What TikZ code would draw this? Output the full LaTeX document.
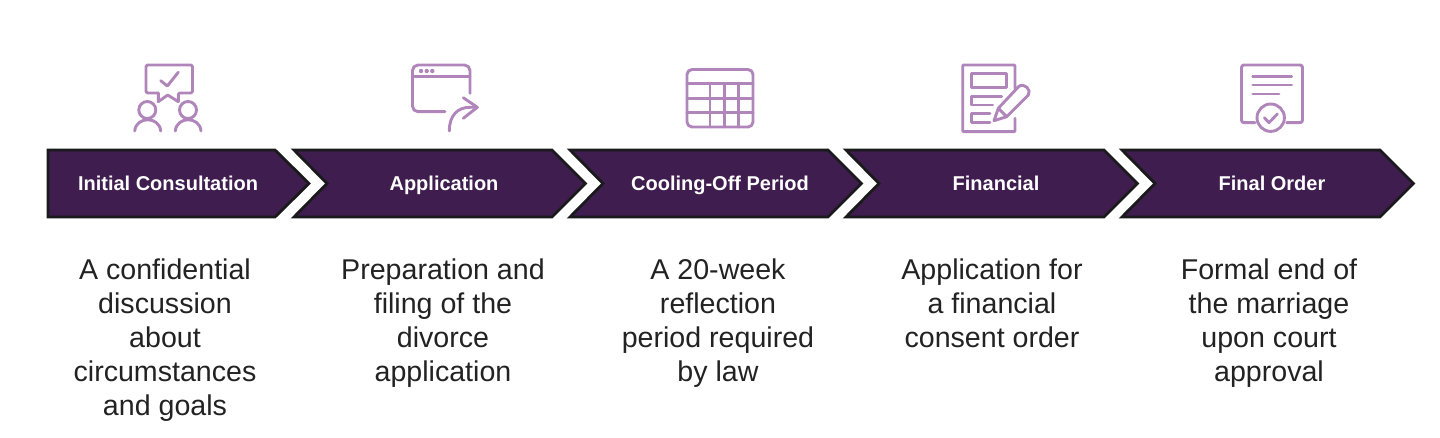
\documentclass[tikz,border=0pt]{standalone}
\usepackage{fontspec}
\setmainfont{Liberation Sans}
\definecolor{plumdark}{HTML}{3F1D4F}
\definecolor{plumline}{HTML}{1A1A1C}
\definecolor{lilac}{HTML}{B085BA}
\definecolor{bodytext}{HTML}{222222}
\tikzset{
  chevron/.style={fill=plumdark,draw=plumline,line width=2.8pt,line join=miter},
  steplabel/.style={anchor=base,text=white,font=\fontsize{20}{24}\selectfont\bfseries},
  stepdesc/.style={anchor=north,align=center,text=bodytext,inner sep=0pt,
    font=\fontsize{28.6}{34}\selectfont},
  icon/.style={draw=lilac,line width=2.9pt,line cap=round,line join=round}
}
\begin{document}
\begin{tikzpicture}[x=1pt,y=-1pt]
  \useasboundingbox (0,0) rectangle (1440,438);

  % Chevrons
  \draw[chevron] (48,150) -- (275,150) -- (309,183.5) -- (275,217) -- (48,217) -- cycle;
  \foreach \xs in {294,570,846,1122}
    \draw[chevron] (\xs,150) -- (\xs+258,150) -- (\xs+291.5,183.5) -- (\xs+258,217)
      -- (\xs,217) -- (\xs+33,183.5) -- cycle;

  % Step names
  \foreach \xc/\nm/\txt in {168/consult/Initial Consultation,444/apply/Application,
    720/cooling/Cooling-Off Period,996/financial/Financial,1272/final/Final Order}
    \node[steplabel] (\nm) at (\xc,190.5) {\txt};

  % Descriptions
  \node[stepdesc] (consultdesc) at (165,258.5) {A confidential\\discussion\\about\\circumstances\\and goals};
  \node[stepdesc] (applydesc) at (443,258.5) {Preparation and\\filing of the\\divorce\\application};
  \node[stepdesc] (coolingdesc) at (718,258.5) {A 20-week\\reflection\\period required\\by law};
  \node[stepdesc] (financialdesc) at (992,258.5) {Application for\\a financial\\consent order};
  \node[stepdesc] (finaldesc) at (1269,258.5) {Formal end of\\the marriage\\upon court\\approval};

  % Icon: speech bubble and two people
  \draw[icon,rounded corners=2pt] (158.3,93) -- (146,93) -- (146,65) -- (192.5,65) -- (192.5,93)
    -- (178.3,93) [sharp corners] -- (178.3,101.7) -- (167.7,95) -- (158.3,101.7) -- cycle;
  \draw[icon] (160.7,80.7) -- (167.3,86) -- (178.3,72.3);
  \draw[icon] (147.3,110) circle (8.5);
  \draw[icon] (188,110) circle (8.5);
  \draw[icon] (134.7,131) .. controls (136,116) and (159.4,116) .. (160.7,131);
  \draw[icon] (175.3,131) .. controls (176.6,116) and (199.7,116) .. (201,131);

  % Icon: window and arrow
  \draw[icon,rounded corners=5.5pt] (445,111.7) -- (412.5,111.7) -- (412.5,65) -- (470,65) -- (470,93.3);
  \draw[icon] (412.5,76.5) -- (470,76.5);
  \foreach \xd in {421,426.7,432.3}
    \fill[lilac] (\xd,71) circle (2.2);
  \draw[icon] (449.3,131) .. controls (449.3,115) and (458,107.3) .. (470,107.3) -- (477.3,107.3);
  \draw[icon] (463.3,97.7) -- (477.3,107.3) -- (463.3,118.3);

  % Icon: table
  \draw[icon,rounded corners=5pt] (687,69.5) rectangle (753,127);
  \foreach \yl in {83.3,98.3,112.7}
    \draw[icon] (687,\yl) -- (753,\yl);
  \foreach \xl in {710,724.3,738.3}
    \draw[icon] (\xl,83.3) -- (\xl,127);

  % Icon: form and pencil
  \draw[icon,rounded corners=1pt] (1015,88.3) -- (1015,65) -- (962.7,65) -- (962.7,131.7) -- (1015,131.7) -- (1015,118.3);
  \draw[icon] (971.7,73.3) rectangle (1006.7,87.7);
  \draw[icon] (1001.7,96.7) -- (971.7,96.7) -- (971.7,105) -- (992.7,105);
  \draw[icon] (990,113.3) -- (971.7,113.3) -- (971.7,122.3) -- (990,122.3);
  \draw[icon] (994,120.7) -- (998.3,108.3) -- (1018.5,86.7)
    .. controls (1024,82) and (1032,90) .. (1028.3,95) -- (1006.7,116.7) -- cycle;
  \draw[icon] (998.3,108.3) -- (1006.7,116.7);

  % Icon: certificate
  \draw[icon,rounded corners=2.5pt] (1255,122.7) -- (1241.5,122.7) -- (1241.5,65) -- (1302.5,65)
    -- (1302.5,122.7) -- (1286.7,122.7);
  \draw[icon] (1252.7,76.7) -- (1291.7,76.7);
  \draw[icon] (1252.7,85) -- (1291.7,85);
  \draw[icon] (1252.7,94) -- (1279,94);
  \draw[icon] (1270.7,117.7) circle (13.7);
  \draw[icon] (1264.3,117.7) -- (1269,122.7) -- (1277.3,114);
\end{tikzpicture}
\end{document}
